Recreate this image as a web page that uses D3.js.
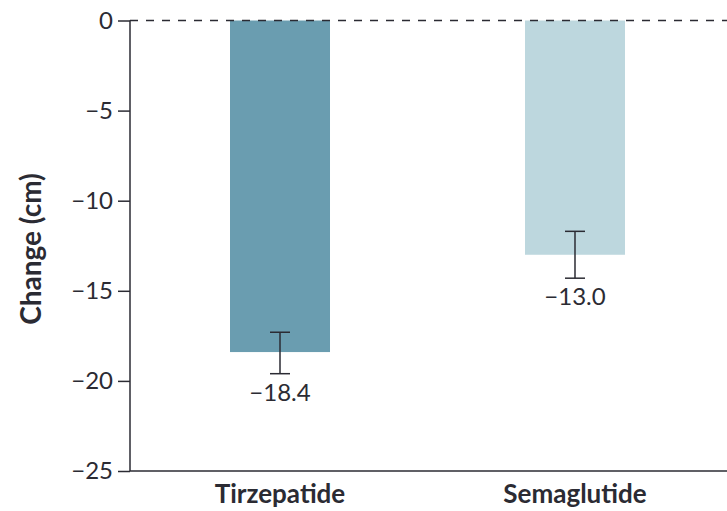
<!DOCTYPE html>
<html>
<head>
<meta charset="utf-8">
<script src="https://cdn.jsdelivr.net/npm/d3@7"></script>
<style>
  body { margin: 0; background: #fff; }
  svg { display: block; font-family: Lato, "Open Sans", sans-serif; }
</style>
</head>
<body>
<div id="chart"></div>
<script>
// data
const drugs = ['Tirzepatide', 'Semaglutide'];
const changes = [-18.4, -13.0];
const errLow = [-19.6, -14.3];
const errHigh = [-17.3, -11.7];
const barColors = ['#6a9db0', '#bdd7de'];
const yTicks = [0, -5, -10, -15, -20, -25];

const width = 727, height = 511;
const ink = '#2b2b33';

const svg = d3.select('#chart')
  .append('svg')
  .attr('width', width)
  .attr('height', height);

const y = d3.scaleLinear()
  .domain([0, -25])
  .range([20.5, 471]);

const x = d3.scaleBand()
  .domain(drugs)
  .range([130, 725])
  .paddingInner(0.661)
  .paddingOuter(0.339);

const rows = drugs.map((d, i) => ({ name: d, value: changes[i], lo: errLow[i], hi: errHigh[i], color: barColors[i] }));

// bars
svg.append('g')
  .selectAll('rect')
  .data(rows)
  .enter().append('rect')
  .attr('x', d => x(d.name))
  .attr('y', y(0))
  .attr('width', x.bandwidth())
  .attr('height', d => y(d.value) - y(0))
  .attr('fill', d => d.color);

// zero line
svg.append('line')
  .attr('x1', 130).attr('x2', width)
  .attr('y1', y(0)).attr('y2', y(0))
  .style('stroke', ink)
  .style('stroke-width', 1.5)
  .style('stroke-dasharray', '8,8');

// error bars
const err = svg.append('g')
  .selectAll('g')
  .data(rows)
  .enter().append('g')
  .attr('transform', d => 'translate(' + (x(d.name) + x.bandwidth() / 2) + ',0)')
  .style('stroke', ink)
  .style('stroke-width', 1.5);

err.append('line')
  .attr('y1', d => y(d.hi)).attr('y2', d => y(d.lo));
err.append('line')
  .attr('x1', -10).attr('x2', 10)
  .attr('y1', d => y(d.hi)).attr('y2', d => y(d.hi));
err.append('line')
  .attr('x1', -10).attr('x2', 10)
  .attr('y1', d => y(d.lo)).attr('y2', d => y(d.lo));

// value labels
svg.append('g')
  .selectAll('text')
  .data(rows)
  .enter().append('text')
  .attr('x', d => x(d.name) + x.bandwidth() / 2)
  .attr('y', d => y(d.lo) + 27)
  .attr('text-anchor', 'middle')
  .style('font-size', '24px')
  .style('fill', ink)
  .text(d => d3.format('.1f')(d.value).replace('-', '\u2212'));

// y axis
const yAxis = svg.append('g')
  .attr('transform', 'translate(130,0)')
  .call(d3.axisLeft(y)
    .tickValues(yTicks)
    .tickSize(12)
    .tickPadding(5)
    .tickFormat(d => String(d).replace('-', '\u2212')));
yAxis.select('.domain').remove();
yAxis.selectAll('line').style('stroke', ink).style('stroke-width', 1.5);
yAxis.selectAll('text')
  .style('font-family', 'Lato, "Open Sans", sans-serif')
  .style('font-size', '24px')
  .style('fill', ink);

svg.append('line')
  .attr('x1', 130).attr('x2', 130)
  .attr('y1', y(0)).attr('y2', y(-25))
  .style('stroke', ink).style('stroke-width', 1.5);

// x axis
svg.append('line')
  .attr('x1', 130).attr('x2', width)
  .attr('y1', y(-25)).attr('y2', y(-25))
  .style('stroke', ink).style('stroke-width', 1.5);

svg.append('g')
  .selectAll('text')
  .data(drugs)
  .enter().append('text')
  .attr('x', d => x(d) + x.bandwidth() / 2)
  .attr('y', 503)
  .attr('text-anchor', 'middle')
  .style('font-size', '26px')
  .style('font-weight', 'bold')
  .style('fill', ink)
  .text(d => d);

// axis title
svg.append('text')
  .attr('transform', 'translate(41,249) rotate(-90)')
  .attr('text-anchor', 'middle')
  .style('font-size', '28px')
  .style('font-weight', 'bold')
  .style('fill', ink)
  .text('Change (cm)');
</script>
</body>
</html>
